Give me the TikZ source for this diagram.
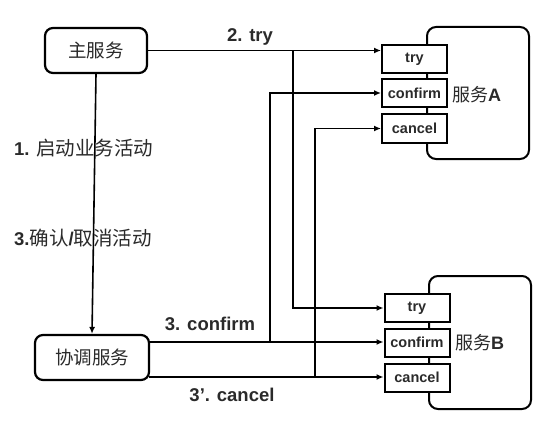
\documentclass[tikz,border=0pt]{standalone}
\usepackage{fontspec}
\setmainfont{Liberation Sans}
\newfontfamily\cjk{Noto Sans CJK SC}
\usetikzlibrary{arrows.meta}
\definecolor{txt}{HTML}{2A2A2A}
\begin{document}
\begin{tikzpicture}[x=1pt,y=-1pt,
  rbox/.style={draw,line width=2.2pt,rounded corners=8pt,fill=white,text=txt,font=\fontsize{18.5}{22}\selectfont\cjk},
  svc/.style={draw,line width=2pt,rounded corners=9pt,fill=white},
  op/.style={draw,line width=2pt,fill=white,minimum width=65pt,minimum height=28pt,inner sep=0pt,font=\fontsize{14.5}{16}\selectfont\bfseries,text=txt},
  lbl/.style={text=txt,font=\fontsize{18.5}{22}\selectfont\bfseries,inner sep=0pt},
  cj/.style={font=\fontsize{19.5}{22}\selectfont\cjk},
  conn/.style={line width=1.6pt,-{Latex[length=7pt,width=6pt]}},
  wire/.style={line width=1.6pt}]
\useasboundingbox (0,0) rectangle (551,425);
% services
\node[svc,minimum width=102pt,minimum height=132pt] (svcA) at (478,93) {};
\node[svc,minimum width=102pt,minimum height=133pt] (svcB) at (480,342.5) {};
\node[op] (tryA) at (414.5,59) {try};
\node[op] (confA) at (414.5,93) {confirm};
\node[op] (cancA) at (414.5,128.5) {cancel};
\node[op] (tryB) at (417,308) {try};
\node[op] (confB) at (417,342.5) {confirm};
\node[op] (cancB) at (417,377.5) {cancel};
\node[anchor=west,inner sep=0pt,text=txt,font=\fontsize{18}{20}\selectfont] (nA) at (452,95) {{\cjk 服务}\textbf{A}};
\node[anchor=west,inner sep=0pt,text=txt,font=\fontsize{18}{20}\selectfont] (nB) at (455,343) {{\cjk 服务}\textbf{B}};
% main nodes
\node[rbox,minimum width=102pt,minimum height=45pt] (main) at (96,50.5) {主服务};
\node[rbox,minimum width=114pt,minimum height=45pt] (coord) at (92,357.5) {协调服务};
% coordinates
\coordinate (mA) at (main.east);
\coordinate (j1) at (293,51);
\coordinate (c1) at (149,342);
\coordinate (j2) at (270,342);
\coordinate (c2) at (149,377);
\coordinate (j3) at (315,377);
% connectors
\draw[conn] (main.south) -- (coord.north);
\draw[conn] (mA) -- (mA -| tryA.west);
\draw[conn] (j1) |- (tryB.west);
\draw[conn] (c1) -- (c1 -| confB.west);
\draw[conn] (j2) |- (confA.west);
\draw[conn] (c2) -- (c2 -| cancB.west);
\draw[conn] (j3) |- (cancA.west);
% labels
\node[lbl] (l2) at (250,37) {2. try};
\node[lbl,anchor=west] (l1) at (14,148) {1. {\fontsize{19.5}{22}\selectfont\cjk\mdseries 启动业务活动}};
\node[lbl,anchor=west] (l3) at (14,238) {3.{\fontsize{19.5}{22}\selectfont\cjk\mdseries 确认}/{\fontsize{19.5}{22}\selectfont\cjk\mdseries 取消活动}};
\node[lbl] (l4) at (210,324) {3. confirm};
\node[lbl] (l5) at (232,395) {3’. cancel};
\end{tikzpicture}
\end{document}
